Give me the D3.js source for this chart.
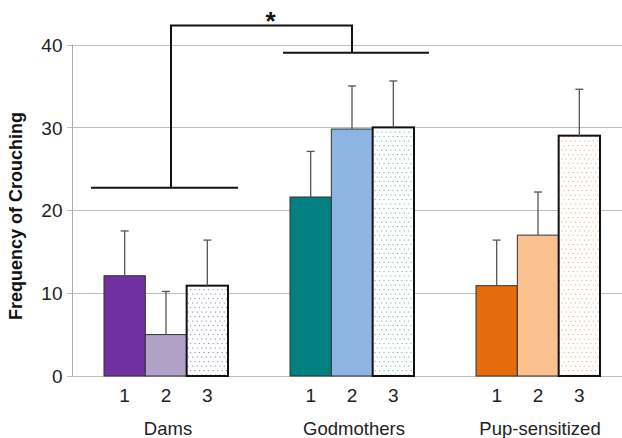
<!DOCTYPE html>
<html><head><meta charset="utf-8">
<script src="https://cdn.jsdelivr.net/npm/d3@7"></script>
<style>html,body{margin:0;padding:0;background:#fff}svg{display:block;font-family:"Liberation Sans",Arial,sans-serif}</style>
</head><body><svg id="c" width="622" height="438"></svg>
<script>
const groups = ["Dams", "Godmothers", "Pup-sensitized"];
const conditions = ["1", "2", "3"];
const damsMeans = [12.1, 5.0, 10.9];
const godmotherMeans = [21.6, 29.8, 30.0];
const pupMeans = [10.9, 17.0, 29.0];
const damsErr = [5.4, 5.2, 5.5];
const godmotherErr = [5.5, 5.2, 5.6];
const pupErr = [5.5, 5.2, 5.6];
const yTicks = [0, 10, 20, 30, 40];
const yTitle = "Frequency of Crouching";
const damsBracketLevel = 22.7;
const godmotherBracketLevel = 39.0;
const topBracketLevel = 42.3;

const solidColors = [["#7030A0", "#B1A0C7"], ["#008080", "#8EB4E3"], ["#E46C0A", "#FAC090"]];
const dotColors = ["#9a86c8", "#6fbcb3", "#efae7c"];

const meansByGroup = [damsMeans, godmotherMeans, pupMeans];
const errByGroup = [damsErr, godmotherErr, pupErr];
const data = [];
groups.forEach((g, gi) => conditions.forEach((c, ci) => data.push({g, gi, c, ci, v: meansByGroup[gi][ci], e: errByGroup[gi][ci]})));

const svg = d3.select("#c");
const y = d3.scaleLinear().domain([0, 40]).range([376, 44.5]);
const x0 = d3.scaleBand().domain(groups).range([72, 632]).paddingInner(1/3).paddingOuter(0.172);
const x1 = d3.scaleBand().domain(conditions).range([0, x0.bandwidth()]);

const defs = svg.append("defs");
dotColors.forEach((col, i) => {
  const p = defs.append("pattern").attr("id", "dots" + i).attr("patternUnits", "userSpaceOnUse").attr("width", 9).attr("height", 9);
  p.append("rect").attr("width", 9).attr("height", 9).attr("fill", "#fff");
  [[1, 1], [5.5, 1], [3.25, 5.5], [7.75, 5.5]].forEach(([cx, cy]) =>
    p.append("rect").attr("x", cx).attr("y", cy).attr("width", 1.1).attr("height", 1.1).attr("fill", col));
});

// gridlines
svg.append("g").selectAll("line").data(yTicks).join("line")
  .attr("x1", 67).attr("x2", 622).attr("y1", d => Math.round(y(d)) + 0.5).attr("y2", d => Math.round(y(d)) + 0.5)
  .attr("stroke", "#bdbdbd").attr("stroke-width", 1.2);

// y axis
const yAxis = d3.axisLeft(y).tickValues(yTicks).tickSize(5).tickPadding(5);
const ga = svg.append("g").attr("transform", "translate(72.5,0)").call(yAxis);
ga.select(".domain").attr("stroke", "#aaaaaa").attr("d", `M0,${y(40)}V${y(0)}`);
ga.selectAll(".tick line").remove();
ga.selectAll(".tick text").attr("font-size", 19).attr("fill", "#222").attr("dy", "0.35em").attr("font-family", "Liberation Sans, Arial, sans-serif");

// bars
const bars = svg.append("g");
bars.selectAll("rect").data(data).join("rect")
  .attr("x", d => x0(d.g) + x1(d.c))
  .attr("y", d => y(d.v))
  .attr("width", x1.bandwidth())
  .attr("height", d => y(0) - y(d.v))
  .attr("fill", d => d.ci < 2 ? solidColors[d.gi][d.ci] : `url(#dots${d.gi})`)
  .attr("stroke", d => d.ci < 2 ? "#333" : "#111")
  .attr("stroke-width", d => d.ci < 2 ? 1 : 2);

// error bars
const eb = svg.append("g").attr("stroke", "#555").attr("stroke-width", 1.3);
eb.selectAll("line.v").data(data).join("line").attr("class", "v")
  .attr("x1", d => x0(d.g) + x1(d.c) + x1.bandwidth() / 2).attr("x2", d => x0(d.g) + x1(d.c) + x1.bandwidth() / 2)
  .attr("y1", d => y(d.v)).attr("y2", d => y(d.v + d.e));
eb.selectAll("line.h").data(data).join("line").attr("class", "h")
  .attr("x1", d => x0(d.g) + x1(d.c) + x1.bandwidth() / 2 - 4).attr("x2", d => x0(d.g) + x1(d.c) + x1.bandwidth() / 2 + 4)
  .attr("y1", d => y(d.v + d.e)).attr("y2", d => y(d.v + d.e));

// x labels
const xl = svg.append("g").attr("font-size", 19).attr("fill", "#222").attr("text-anchor", "middle");
xl.selectAll("text.c").data(data).join("text").attr("class", "c")
  .attr("x", d => x0(d.g) + x1(d.c) + x1.bandwidth() / 2).attr("y", 402).text(d => d.c);
xl.selectAll("text.g").data(groups).join("text").attr("class", "g")
  .attr("x", d => x0(d) + x0.bandwidth() / 2 + 2).attr("y", 435).attr("font-size", 18.5).text(d => d);

// y title
svg.append("text").attr("transform", `translate(22,216) rotate(-90)`).attr("text-anchor", "middle")
  .attr("font-size", 18).attr("font-weight", "bold").attr("fill", "#111").text(yTitle);

// significance brackets
const bk = svg.append("g").attr("stroke", "#111").attr("stroke-width", 2).attr("fill", "none");
const dX = x0("Dams"), gX = x0("Godmothers"), bw = x0.bandwidth();
bk.append("line").attr("x1", dX - 13).attr("x2", dX + bw + 10).attr("y1", y(damsBracketLevel)).attr("y2", y(damsBracketLevel));
bk.append("line").attr("x1", gX - 7).attr("x2", gX + bw + 15).attr("y1", y(godmotherBracketLevel)).attr("y2", y(godmotherBracketLevel));
bk.append("path").attr("d", `M${dX + bw / 2 + 5},${y(damsBracketLevel)}V${y(topBracketLevel)}H${gX + bw / 2}V${y(godmotherBracketLevel)}`);
svg.append("text").attr("x", (dX + bw / 2 + 5 + gX + bw / 2) / 2 + 9).attr("y", 30).attr("text-anchor", "middle")
  .attr("font-size", 26).attr("font-weight", "bold").attr("fill", "#111").text("*");
</script></body></html>
